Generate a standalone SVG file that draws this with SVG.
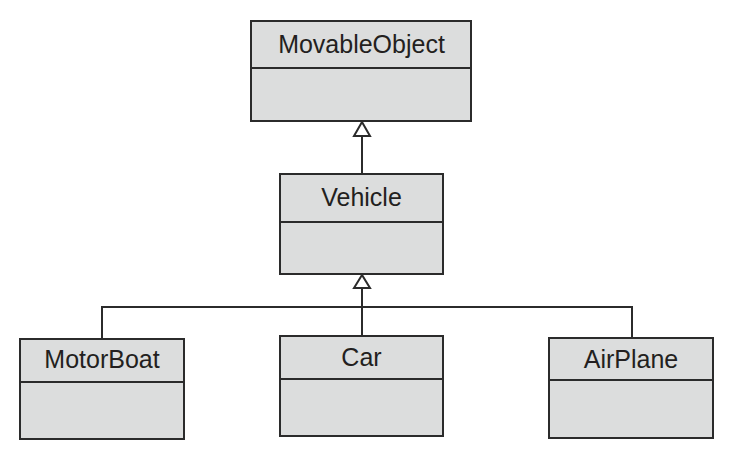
<svg xmlns="http://www.w3.org/2000/svg" width="733" height="456" viewBox="0 0 733 456">
<style>
.box{fill:#dcdddd;stroke:#2b2b2b;stroke-width:2}
.div{stroke:#2b2b2b;stroke-width:2}
.lbl{font-family:"Liberation Sans",Arial,sans-serif;font-size:25px;fill:#231f20;text-anchor:middle}
.con{fill:none;stroke:#2b2b2b;stroke-width:2}
.tri{fill:#ffffff;stroke:#2b2b2b;stroke-width:2}
</style>
<rect width="733" height="456" fill="#ffffff"/>
<g id="connectors">
<path class="con" d="M362 136 V174"/>
<polygon class="tri" points="362,122 354,136 370,136"/>
<path class="con" d="M102 339 V307 H632 V338 M362 288 V336"/>
<polygon class="tri" points="362,275 354,288 370,288"/>
</g>
<g id="MovableObject">
<rect class="box" x="251" y="21" width="220" height="100"/>
<line class="div" x1="251" y1="68" x2="471" y2="68"/>
<text class="lbl" x="361.5" y="53">MovableObject</text>
</g>
<g id="Vehicle">
<rect class="box" x="280" y="174" width="163" height="100"/>
<line class="div" x1="280" y1="222" x2="443" y2="222"/>
<text class="lbl" x="361.5" y="206">Vehicle</text>
</g>
<g id="MotorBoat">
<rect class="box" x="20" y="339" width="164" height="100"/>
<line class="div" x1="20" y1="382" x2="184" y2="382"/>
<text class="lbl" x="102" y="368">MotorBoat</text>
</g>
<g id="Car">
<rect class="box" x="280" y="336" width="163" height="100"/>
<line class="div" x1="280" y1="379" x2="443" y2="379"/>
<text class="lbl" x="361.5" y="366">Car</text>
</g>
<g id="AirPlane">
<rect class="box" x="549" y="338" width="164" height="100"/>
<line class="div" x1="549" y1="380" x2="713" y2="380"/>
<text class="lbl" x="631" y="368">AirPlane</text>
</g>
</svg>
